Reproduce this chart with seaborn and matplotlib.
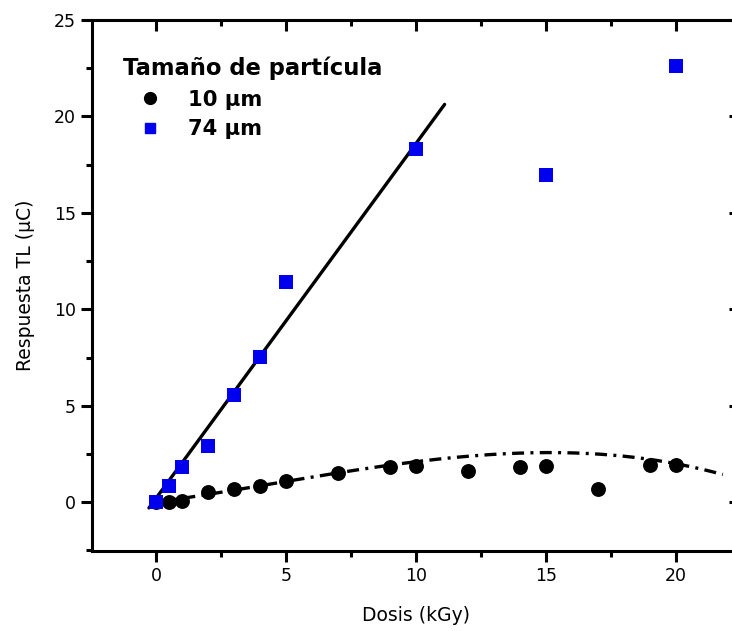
import numpy as np
import pandas as pd
import matplotlib
matplotlib.use("Agg")
import matplotlib.pyplot as plt
import seaborn as sns
from matplotlib.ticker import MultipleLocator
from matplotlib.lines import Line2D

# ---- data ----
dose_10 = [0, 0.5, 1, 2, 3, 4, 5, 7, 9, 10, 12, 14, 15, 17, 19, 20]
tl_10 = [0.0, 0.02, 0.05, 0.52, 0.69, 0.86, 1.1, 1.52, 1.8, 1.88, 1.64, 1.8, 1.87, 0.67, 1.92, 1.95]
dose_74 = [0, 0.5, 1, 2, 3, 4, 5, 10, 15, 20]
tl_74 = [0.0, 0.86, 1.8, 2.92, 5.55, 7.55, 11.44, 18.3, 16.96, 22.6]

# fitted curves (coefficients)
lin_fit = [1.84, 0.2]                         # slope, intercept (74 um)
lin_range = [-0.27, 11.1]
cub_fit = [-0.000665, 0.008923, 0.18727, 0.0]  # cubic (10 um)
cub_range = [0.0, 21.8]

labels = ["10 \u03bcm", "74 \u03bcm"]
legend_title = "Tama\u00f1o de part\u00edcula"
xlabel = "Dosis (kGy)"
ylabel = "Respuesta TL (\u03bcC)"

sns.set_style("white")
plt.rcParams['font.family'] = ['DejaVu Sans']
plt.rcParams.update({"text.color": "black", "axes.labelcolor": "black",
                     "xtick.color": "black", "ytick.color": "black"})

fig = plt.figure(figsize=(7.32, 6.31), dpi=100)
# right edge of the axes lies just outside the picture, as in the reference
ax = fig.add_axes([92/732, 1-551/631, (740-92)/732, (551-20)/631])

xl = np.linspace(*lin_range, 50)
xc = np.linspace(*cub_range, 200)
df_lin = pd.DataFrame({"x": xl, "y": np.polyval(lin_fit, xl)})
df_cub = pd.DataFrame({"x": xc, "y": np.polyval(cub_fit, xc)})

sns.lineplot(data=df_cub, x="x", y="y", ax=ax, color="black", lw=2.4,
             sort=False, zorder=2)
ax.lines[-1].set_dashes([3.6, 1.9, 0.9, 1.9])
sns.lineplot(data=df_lin, x="x", y="y", ax=ax, color="black", lw=2.4, sort=False, zorder=2)

df10 = pd.DataFrame({"x": dose_10, "y": tl_10})
df74 = pd.DataFrame({"x": dose_74, "y": tl_74})
sns.scatterplot(data=df10, x="x", y="y", ax=ax, color="black", marker="o", s=115,
                edgecolor="black", linewidth=0, zorder=3)
sns.scatterplot(data=df74, x="x", y="y", ax=ax, color="#0000ee", marker="s", s=110,
                edgecolor="#0000ee", linewidth=0, zorder=4)

ax.set_xlim(-2.46, 22.46)
ax.set_ylim(-2.53, 25)
ax.set_xticks([0, 5, 10, 15, 20])
ax.set_yticks([0, 5, 10, 15, 20, 25])
ax.xaxis.set_minor_locator(MultipleLocator(2.5))
ax.yaxis.set_minor_locator(MultipleLocator(2.5))

for s in ["left", "bottom", "top", "right"]:
    ax.spines[s].set_visible(True)
    ax.spines[s].set_color("black")
    ax.spines[s].set_linewidth(2.2)

ax.tick_params(axis="both", which="major", direction="out", length=8, width=2.2,
               labelsize=12.5, bottom=True, left=True, top=False, right=False)
ax.tick_params(axis="both", which="minor", direction="out", length=4.5, width=2.2,
               bottom=True, left=True, top=False, right=False)

# inward ticks on top and right
sec_x = ax.secondary_xaxis("top")
sec_x.set_xticks([0, 5, 10, 15, 20])
sec_x.xaxis.set_minor_locator(MultipleLocator(2.5))
sec_x.tick_params(which="major", direction="in", length=8, width=2.2, labeltop=False)
sec_x.tick_params(which="minor", direction="in", length=4.5, width=2.2)
sec_x.spines["top"].set_visible(False)
sec_y = ax.secondary_yaxis("right")
sec_y.set_yticks([0, 5, 10, 15, 20, 25])
sec_y.tick_params(which="major", direction="in", length=8, width=2.2, labelright=False)
sec_y.spines["right"].set_visible(False)

ax.set_xlabel(xlabel, fontsize=13.5, labelpad=15)
ax.set_ylabel(ylabel, fontsize=13.5, labelpad=14)

handles = [Line2D([], [], ls="none", marker="o", color="black", markersize=8.5),
           Line2D([], [], ls="none", marker="s", color="#0000ee", markersize=7)]
leg = ax.legend(handles, labels, title=legend_title, loc="upper left",
                bbox_to_anchor=(0.035, 0.947), frameon=False,
                prop={"weight": "bold", "size": 15.2}, handletextpad=0.55,
                handlelength=2.5, labelspacing=0.45, borderaxespad=0)
leg.get_title().set_fontweight("bold")
leg.get_title().set_fontsize(16.3)
leg.get_title().set_color("black")
for t in leg.get_texts():
    t.set_color("black")
leg._legend_box.align = "left"

fig.savefig("out.png", dpi=100)
